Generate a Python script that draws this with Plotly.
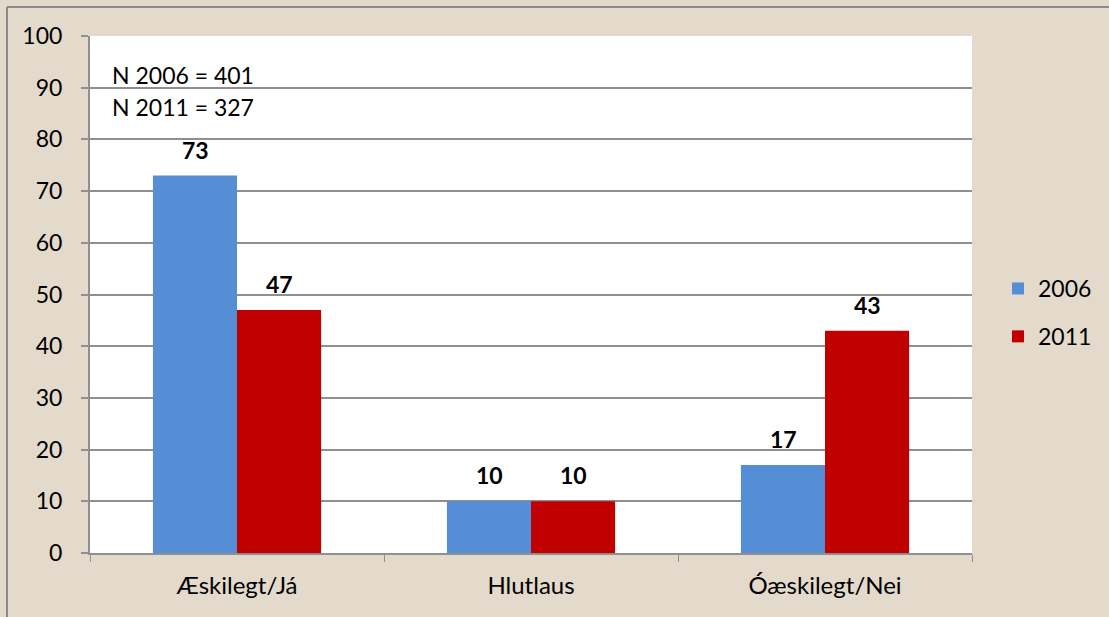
import plotly.graph_objects as go

categories = ["Æskilegt/Já", "Hlutlaus", "Óæskilegt/Nei"]
values_2006 = [73, 10, 17]
values_2011 = [47, 10, 43]
series_names = ["2006", "2011"]
note_lines = ["N 2006 = 401", "N 2011 = 327"]

W, H = 1109, 617
ml, mr, mt, mb = 90, 137, 36, 64
pw, ph = W - ml - mr, H - mt - mb

FONT = "Lato"
FS = 23
BLUE = "#558ED5"
RED = "#C00000"
BG = "#e3dacb"
GRID = "#8f8f8f"

fig = go.Figure()
for name, vals, col in [(series_names[0], values_2006, BLUE), (series_names[1], values_2011, RED)]:
    fig.add_trace(go.Bar(
        x=categories, y=vals, name=name, marker=dict(color=col, line=dict(width=0)),
        legendgroup=name,
    ))

# data labels
for i, c in enumerate(categories):
    for vals, off in [(values_2006, -0.5), (values_2011, 0.5)]:
        fig.add_annotation(
            x=c, y=vals[i], xref="x", yref="y", text=f"<b>{vals[i]}</b>",
            showarrow=False, yanchor="bottom", yshift=10, xshift=off * 84,
            font=dict(family=FONT, size=FS, color="black"),
        )

# N notes
for j, t in enumerate(note_lines):
    fig.add_annotation(
        x=(110 - ml) / pw, y=1 - (75 + 32 * j - mt) / ph, xref="paper", yref="paper",
        text=t, showarrow=False, xanchor="left", yanchor="middle",
        font=dict(family=FONT, size=FS, color="black"),
    )

# outer frame (top and left lines)
fx0 = (7 - ml) / pw
fy1 = 1 + (mt - 7) / ph
fig.add_shape(type="line", xref="paper", yref="paper", x0=fx0, x1=(W + 10 - ml) / pw, y0=fy1, y1=fy1,
              line=dict(color="#8a8a8a", width=2))
fig.add_shape(type="line", xref="paper", yref="paper", x0=fx0, x1=fx0, y0=fy1, y1=-(mb + 10) / ph,
              line=dict(color="#8a8a8a", width=2))

fig.update_layout(
    width=W, height=H,
    margin=dict(l=ml, r=mr, t=mt, b=mb, pad=0, autoexpand=False),
    paper_bgcolor=BG, plot_bgcolor="white",
    barmode="group", bargap=0.428, bargroupgap=0,
    font=dict(family=FONT, size=FS, color="black"),
    showlegend=True,
    legend=dict(
        x=(998 - ml) / pw, y=1 - (267 - mt) / ph, xanchor="left", yanchor="top",
        bgcolor="rgba(0,0,0,0)", font=dict(family=FONT, size=FS),
        traceorder="grouped", tracegroupgap=15, itemwidth=30,
    ),
    xaxis=dict(
        showline=True, linecolor=GRID, linewidth=2, ticks="outside", tickson="boundaries",
        ticklen=7, tickcolor=GRID, tickwidth=1, showgrid=False,
        tickfont=dict(family=FONT, size=FS + 1), ticklabelstandoff=10,
    ),
    yaxis=dict(
        range=[0, 100], dtick=10, showline=True, linecolor=GRID, linewidth=2,
        ticks="outside", ticklen=7, tickcolor=GRID, tickwidth=2,
        gridcolor=GRID, gridwidth=2, zeroline=False,
        tickfont=dict(family=FONT, size=FS), ticklabelstandoff=14,
    ),
)

fig.write_html("out.html", config={"displayModeBar": False},
               post_script="document.body.style.margin='0';document.body.style.background='%s';" % BG)
